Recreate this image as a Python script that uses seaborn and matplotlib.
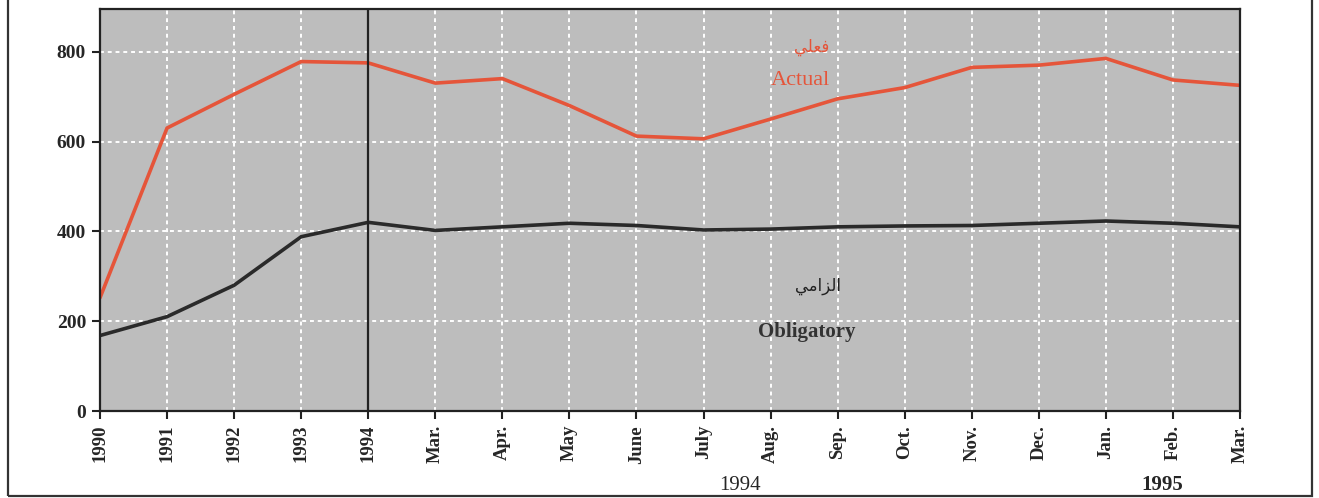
import matplotlib
matplotlib.use("Agg")
import matplotlib.pyplot as plt
import seaborn as sns
import pandas as pd
import numpy as np
from matplotlib.patches import Rectangle

categories = ["1990", "1991", "1992", "1993", "1994", "Mar.", "Apr.", "May", "June", "July",
              "Aug.", "Sep.", "Oct.", "Nov.", "Dec.", "Jan.", "Feb.", "Mar."]
actual = [252, 630, 705, 778, 775, 730, 740, 680, 612, 606, 650, 695, 720, 765, 770, 785, 737, 725]
obligatory = [168, 210, 280, 388, 420, 402, 410, 418, 413, 403, 405, 410, 412, 413, 418, 423, 418, 410]

sns.set_style("white")
plt.rcParams['font.family'] = ['Liberation Serif', 'DejaVu Serif', 'DejaVu Sans']

pos = list(range(len(categories)))
df = pd.DataFrame({"pos": pos * 2,
                   "value": actual + obligatory,
                   "series": ["Actual"] * len(pos) + ["Obligatory"] * len(pos)})

fig = plt.figure(figsize=(13.19, 4.98), dpi=100)
ax = fig.add_axes([100 / 1319, 1 - 411 / 498, 1140 / 1319, 402 / 498])
ax.set_facecolor("#bdbdbd")

sns.lineplot(data=df, x="pos", y="value", hue="series",
             palette={"Actual": "#e5553a", "Obligatory": "#2a2a2a"},
             linewidth=2.6, legend=False, ax=ax)

ax.set_xlim(0, len(categories) - 1)
ax.set_ylim(0, 895)
ax.set_yticks([0, 200, 400, 600, 800])
ax.set_xticks(pos)
ax.set_xticklabels(categories, rotation=90, fontweight="bold", fontsize=13.5)
for t in ax.get_yticklabels():
    t.set_fontweight("bold")
    t.set_fontsize(14)
ax.tick_params(axis="both", length=6, width=1.5, color="#222222", direction="out", pad=4)
ax.tick_params(axis="x", bottom=True)
ax.tick_params(axis="y", left=True)
ax.grid(True, color="white", linestyle=(0, (2, 2)), linewidth=1.4)
ax.set_axisbelow(True)
ax.axvline(4, color="#222222", linewidth=1.6)
for s in ax.spines.values():
    s.set_color("#222222")
    s.set_linewidth(1.6)
ax.set_xlabel("")
ax.set_ylabel("")

ax.text(10.62, 810, "\ufef2\ufee0\ufecc\ufed3", color="#e5553a", fontsize=12,
        ha="center", va="center", family=["DejaVu Sans"])
ax.text(10.45, 735, "Actual", color="#e5553a", fontsize=16, ha="center", va="center")
ax.text(10.7, 278, "\ufef2\ufee3\ufe8d\ufeb0\ufedf\ufe8d", color="#222222", fontsize=12,
        ha="center", va="center", family=["DejaVu Sans"])
ax.text(10.54, 176, "Obligatory", color="#333333", fontsize=15, ha="center", va="center",
        fontweight="bold")

fig.text(740 / 1319, 1 - 485 / 498, "1994", fontsize=15, ha="center", va="center")
fig.text(1162 / 1319, 1 - 485 / 498, "1995", fontsize=15, ha="center", va="center", fontweight="bold")

fig.patches.append(Rectangle((8 / 1319, 2 / 498), 1304 / 1319, 500 / 498,
                             transform=fig.transFigure, fill=False,
                             edgecolor="#333333", linewidth=1.6))

fig.savefig("out.png", dpi=100)
